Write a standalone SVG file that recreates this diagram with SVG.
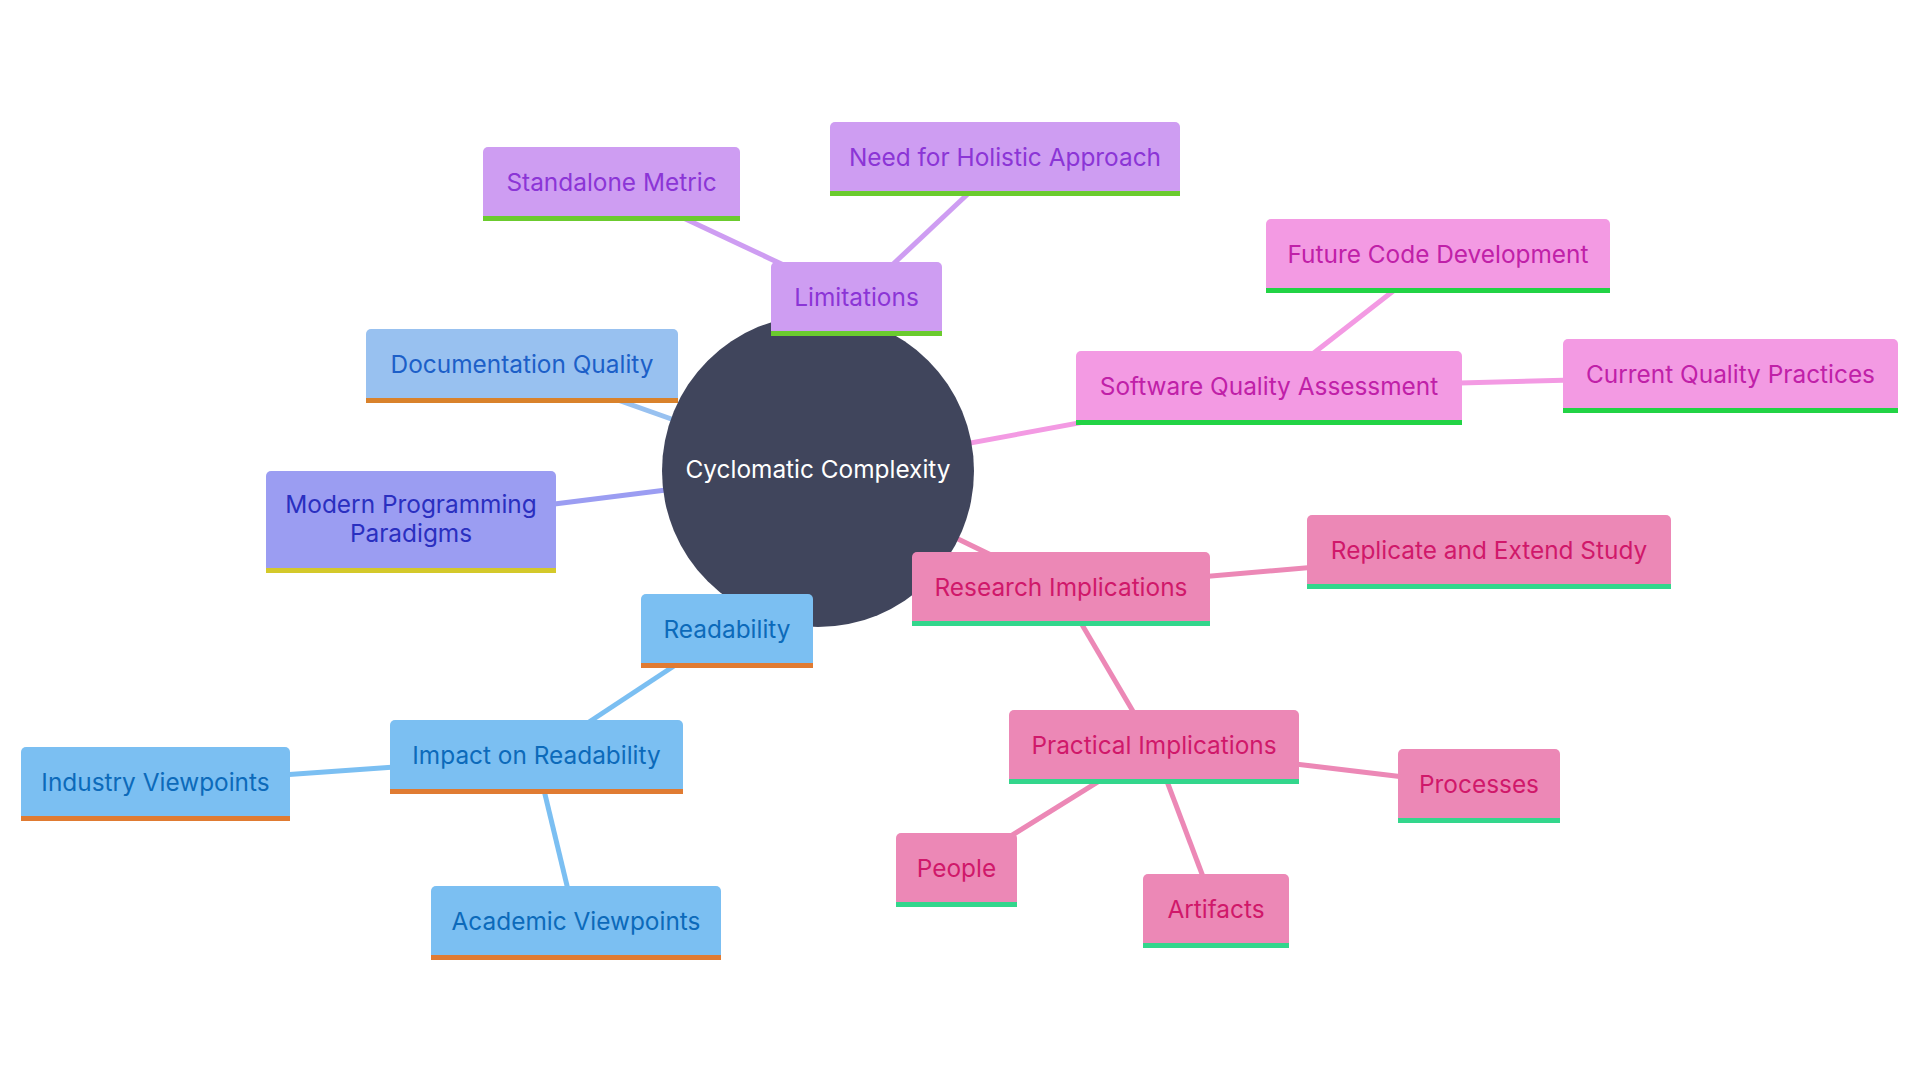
<svg xmlns="http://www.w3.org/2000/svg" width="1920" height="1080" viewBox="0 0 1920 1080">
<style>
text{font-family:Inter,"Open Sans","Liberation Sans",sans-serif;font-size:24.4px;text-anchor:middle;dominant-baseline:central}
.edge{stroke-width:5;fill:none}
.lim rect.b{fill:#CE9DF2}.lim rect.bar{fill:#6BCB2E}.lim text{fill:#8B35D6}
.doc rect.b{fill:#98C1F0}.doc rect.bar{fill:#D9822B}.doc text{fill:#1C5FC8}
.mod rect.b{fill:#9B9DF2}.mod rect.bar{fill:#D4C92A}.mod text{fill:#2A2FC0}
.rd rect.b{fill:#7BBFF2}.rd rect.bar{fill:#E07B32}.rd text{fill:#0C6ABA}
.sq rect.b{fill:#F39AE3}.sq rect.bar{fill:#22D345}.sq text{fill:#C020A8}
.ri rect.b{fill:#EC88B6}.ri rect.bar{fill:#33D68C}.ri text{fill:#D0186A}
</style>
<rect width="1920" height="1080" fill="#ffffff"/>
<g id="connectors">
<line class="edge" stroke="#CE9DF2" x1="818" y1="471" x2="856" y2="299"/>
<line class="edge" stroke="#CE9DF2" x1="856" y1="299" x2="611" y2="184"/>
<line class="edge" stroke="#CE9DF2" x1="856" y1="299" x2="1005" y2="159"/>
<line class="edge" stroke="#98C1F0" x1="818" y1="471" x2="522" y2="366"/>
<line class="edge" stroke="#9B9DF2" x1="818" y1="471" x2="411" y2="522"/>
<line class="edge" stroke="#7BBFF2" x1="818" y1="471" x2="727" y2="631"/>
<line class="edge" stroke="#7BBFF2" x1="727" y1="631" x2="536" y2="757"/>
<line class="edge" stroke="#7BBFF2" x1="536" y1="757" x2="155" y2="784"/>
<line class="edge" stroke="#7BBFF2" x1="536" y1="757" x2="576" y2="923"/>
<line class="edge" stroke="#F39AE3" x1="818" y1="471" x2="1269" y2="388"/>
<line class="edge" stroke="#F39AE3" x1="1269" y1="388" x2="1438" y2="256"/>
<line class="edge" stroke="#F39AE3" x1="1269" y1="388" x2="1730" y2="376"/>
<line class="edge" stroke="#EC88B6" x1="818" y1="471" x2="1061" y2="589"/>
<line class="edge" stroke="#EC88B6" x1="1061" y1="589" x2="1489" y2="552"/>
<line class="edge" stroke="#EC88B6" x1="1061" y1="589" x2="1154" y2="747"/>
<line class="edge" stroke="#EC88B6" x1="1154" y1="747" x2="1479" y2="786"/>
<line class="edge" stroke="#EC88B6" x1="1154" y1="747" x2="956" y2="870"/>
<line class="edge" stroke="#EC88B6" x1="1154" y1="747" x2="1216" y2="911"/>
</g>
<g id="root">
<circle cx="818" cy="471" r="156" fill="#40455C"/>
<text x="818" y="469" fill="#ffffff">Cyclomatic Complexity</text>
</g>
<g id="standalone-metric" class="lim"><rect class="b" x="483" y="147" width="257" height="74" rx="5"/><rect class="bar" x="483" y="216" width="257" height="5"/><text x="611.5" y="181.5">Standalone Metric</text></g>
<g id="need-holistic" class="lim"><rect class="b" x="830" y="122" width="350" height="74" rx="5"/><rect class="bar" x="830" y="191" width="350" height="5"/><text x="1005" y="156.5">Need for Holistic Approach</text></g>
<g id="limitations" class="lim"><rect class="b" x="771" y="262" width="171" height="74" rx="5"/><rect class="bar" x="771" y="331" width="171" height="5"/><text x="856.5" y="296.5">Limitations</text></g>
<g id="documentation-quality" class="doc"><rect class="b" x="366" y="329" width="312" height="74" rx="5"/><rect class="bar" x="366" y="398" width="312" height="5"/><text x="522" y="363.5">Documentation Quality</text></g>
<g id="modern-paradigms" class="mod"><rect class="b" x="266" y="471" width="290" height="102" rx="5"/><rect class="bar" x="266" y="568" width="290" height="5"/><text x="411" y="504">Modern Programming</text><text x="411" y="533">Paradigms</text></g>
<g id="software-quality" class="sq"><rect class="b" x="1076" y="351" width="386" height="74" rx="5"/><rect class="bar" x="1076" y="420" width="386" height="5"/><text x="1269" y="385.5">Software Quality Assessment</text></g>
<g id="future-code" class="sq"><rect class="b" x="1266" y="219" width="344" height="74" rx="5"/><rect class="bar" x="1266" y="288" width="344" height="5"/><text x="1438" y="253.5">Future Code Development</text></g>
<g id="current-quality" class="sq"><rect class="b" x="1563" y="339" width="335" height="74" rx="5"/><rect class="bar" x="1563" y="408" width="335" height="5"/><text x="1730.5" y="373.5">Current Quality Practices</text></g>
<g id="research-implications" class="ri"><rect class="b" x="912" y="552" width="298" height="74" rx="5"/><rect class="bar" x="912" y="621" width="298" height="5"/><text x="1061" y="586.5">Research Implications</text></g>
<g id="replicate-extend" class="ri"><rect class="b" x="1307" y="515" width="364" height="74" rx="5"/><rect class="bar" x="1307" y="584" width="364" height="5"/><text x="1489" y="549.5">Replicate and Extend Study</text></g>
<g id="practical-implications" class="ri"><rect class="b" x="1009" y="710" width="290" height="74" rx="5"/><rect class="bar" x="1009" y="779" width="290" height="5"/><text x="1154" y="744.5">Practical Implications</text></g>
<g id="processes" class="ri"><rect class="b" x="1398" y="749" width="162" height="74" rx="5"/><rect class="bar" x="1398" y="818" width="162" height="5"/><text x="1479" y="783.5">Processes</text></g>
<g id="people" class="ri"><rect class="b" x="896" y="833" width="121" height="74" rx="5"/><rect class="bar" x="896" y="902" width="121" height="5"/><text x="956.5" y="867.5">People</text></g>
<g id="artifacts" class="ri"><rect class="b" x="1143" y="874" width="146" height="74" rx="5"/><rect class="bar" x="1143" y="943" width="146" height="5"/><text x="1216" y="908.5">Artifacts</text></g>
<g id="readability" class="rd"><rect class="b" x="641" y="594" width="172" height="74" rx="5"/><rect class="bar" x="641" y="663" width="172" height="5"/><text x="727" y="628.5">Readability</text></g>
<g id="impact-readability" class="rd"><rect class="b" x="390" y="720" width="293" height="74" rx="5"/><rect class="bar" x="390" y="789" width="293" height="5"/><text x="536.5" y="754.5">Impact on Readability</text></g>
<g id="industry-viewpoints" class="rd"><rect class="b" x="21" y="747" width="269" height="74" rx="5"/><rect class="bar" x="21" y="816" width="269" height="5"/><text x="155.5" y="781.5">Industry Viewpoints</text></g>
<g id="academic-viewpoints" class="rd"><rect class="b" x="431" y="886" width="290" height="74" rx="5"/><rect class="bar" x="431" y="955" width="290" height="5"/><text x="576" y="920.5">Academic Viewpoints</text></g>
</svg>
